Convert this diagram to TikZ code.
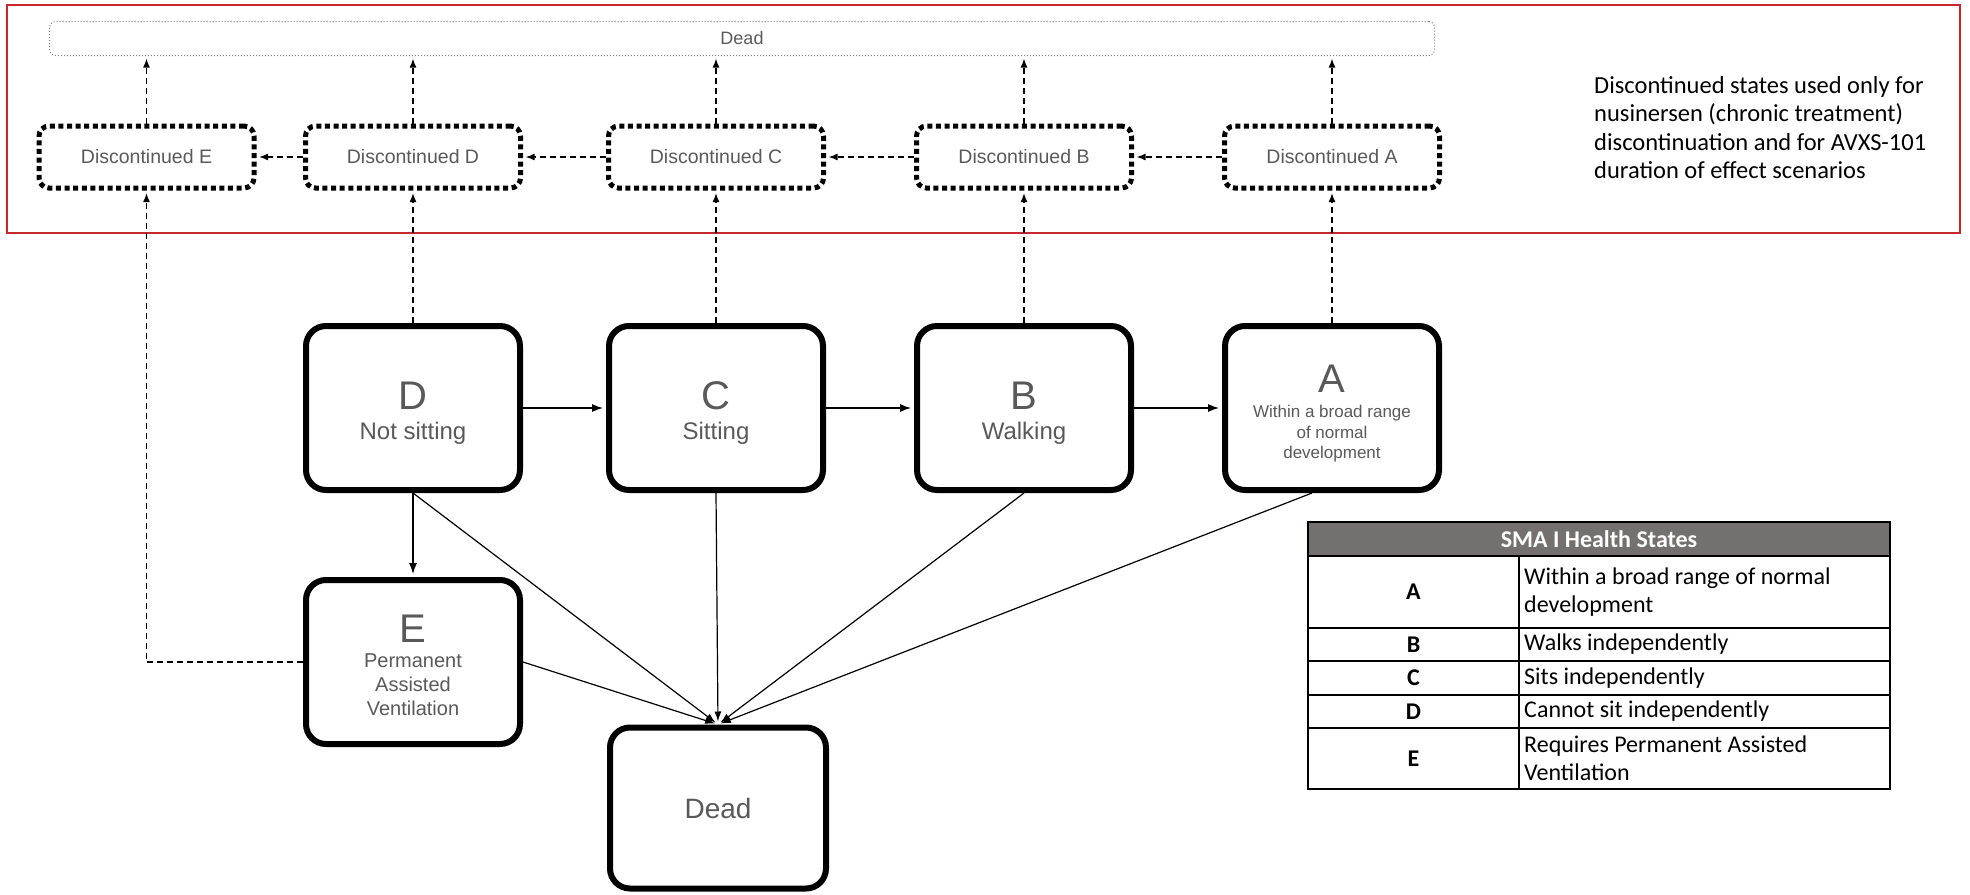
\documentclass[tikz,border=0pt]{standalone}
\usepackage{fontspec}
\setmainfont{Liberation Sans}
\newfontfamily\calibri{Carlito}
\usetikzlibrary{arrows.meta,calc}

\definecolor{boxtext}{RGB}{89,89,89}
\definecolor{framered}{RGB}{200,40,45}
\definecolor{headgray}{RGB}{117,112,112}

\newcommand{\subLarge}{\fontsize{24}{29}\selectfont}
\newcommand{\subSmall}{\fontsize{17}{20.5}\selectfont}
\newcommand{\subMid}{\fontsize{20}{24}\selectfont}

\newcommand{\stateBox}[8]{%
  \node[statebox] (#1) at (#2, #3) {};
  \node[stateletter, anchor=base] (#1-letter) at ($(#1.center)+(0,#4)$) {#7};
  \node[statetext, anchor=north, font=#6] (#1-text) at ($(#1.center)+(0,#5)$) {#8};
}

\newcommand{\healthRow}[5]{%
  \draw[tabline] (1308,#2) rectangle (1890,#3);
  \draw[tabline] (1519,#2) -- (1519,#3);
  \node[tabkey] (#1-key) at (1413.5,{(#2+#3)/2}) {#4};
  \node[tabdesc] (#1-desc) at (1524,{(#2+#3)/2}) {#5};
}

\begin{document}
\begin{tikzpicture}[x=1pt, y=-1pt,
    statebox/.style={draw, line width=6pt, rounded corners=20pt,
      minimum width=214pt, minimum height=164pt, inner sep=0pt},
    stateletter/.style={text=boxtext, font=\fontsize{40}{40}\selectfont, inner sep=0pt},
    statetext/.style={text=boxtext, align=center, inner sep=0pt},
    discbox/.style={draw, line width=5pt, dash pattern=on 5pt off 3.6pt,
      rounded corners=10pt, minimum width=215pt, minimum height=62pt,
      text=boxtext, font=\fontsize{19.5}{19.5}\selectfont},
    deadbar/.style={draw=gray, line width=1pt, dotted, rounded corners=6pt,
      minimum width=1385pt, minimum height=34pt,
      text=boxtext, font=\fontsize{18}{18}\selectfont},
    move/.style={line width=1.2pt, -{Latex[length=11pt,width=8pt]}, shorten >=3pt},
    death/.style={line width=1.2pt, -{Latex[length=10pt,width=7pt]}, shorten >=3pt},
    quitarrow/.style={line width=1.5pt, dash pattern=on 6pt off 4pt,
      -{Latex[length=9pt,width=7pt]}, shorten >=2.5pt},
    notetext/.style={align=left, inner sep=0pt, font=\calibri\fontsize{24.5}{28.5}\selectfont},
    tabline/.style={line width=1.8pt},
    tabhead/.style={text=white, font=\calibri\bfseries\fontsize{24}{24}\selectfont},
    tabkey/.style={font=\calibri\bfseries\fontsize{24}{24}\selectfont},
    tabdesc/.style={anchor=west, align=left, inner sep=0pt,
      font=\calibri\fontsize{24}{28}\selectfont}]
  \useasboundingbox (0,0) rectangle (1970,894);

  % discontinued states
  \draw[framered, line width=2.2pt] (7,5) rectangle (1960,233);
  \node[deadbar] (deadbar) at (742,38.5) {Dead};
  \node[discbox] (discE) at (146.5,157) {Discontinued E};
  \node[discbox] (discD) at (413,157) {Discontinued D};
  \node[discbox] (discC) at (716,157) {Discontinued C};
  \node[discbox] (discB) at (1024,157) {Discontinued B};
  \node[discbox] (discA) at (1332,157) {Discontinued A};
  \node[notetext, anchor=north west] (note) at (1594,76)
    {Discontinued states used only for\\nusinersen (chronic treatment)\\discontinuation and for AVXS-101\\duration of effect scenarios};

  % health states
  \stateBox{D}{413}{408}{1}{14}{\subLarge}{D}{Not sitting}
  \stateBox{C}{716}{408}{1}{14}{\subLarge}{C}{Sitting}
  \stateBox{B}{1024}{408}{1}{14}{\subLarge}{B}{Walking}
  \stateBox{A}{1332}{408}{-16}{-3}{\subSmall}{A}{Within a broad range\\of normal\\development}
  \stateBox{E}{413}{662}{-20}{-8}{\subMid}{E}{Permanent\\Assisted\\Ventilation}
  \node[statebox, minimum width=216pt, minimum height=161pt, text=boxtext,
    font=\fontsize{28}{28}\selectfont] (Dead) at (718,808) {Dead};

  % transitions
  \draw[move] (D.east) -- (C.west);
  \draw[move] (C.east) -- (B.west);
  \draw[move] (B.east) -- (A.west);
  \draw[move] (D.south) -- (E.north);
  \draw[death] (D.south) -- (Dead.north);
  \draw[death] (C.south) -- (Dead.north);
  \draw[death] (B.south) -- (Dead.north);
  \draw[death] ([xshift=-20pt]A.south) -- (Dead.north);
  \draw[death] (E.east) -- (Dead.north);

  % discontinuation
  \draw[quitarrow] (D.north) -- (discD.south);
  \draw[quitarrow] (C.north) -- (discC.south);
  \draw[quitarrow] (B.north) -- (discB.south);
  \draw[quitarrow] (A.north) -- (discA.south);
  \draw[quitarrow] (E.west) -| (discE.south);
  \draw[quitarrow] (discA.west) -- (discB.east);
  \draw[quitarrow] (discB.west) -- (discC.east);
  \draw[quitarrow] (discC.west) -- (discD.east);
  \draw[quitarrow] (discD.west) -- (discE.east);
  \draw[quitarrow] (discE.north) -- (discE.north |- deadbar.south);
  \draw[quitarrow] (discD.north) -- (discD.north |- deadbar.south);
  \draw[quitarrow] (discC.north) -- (discC.north |- deadbar.south);
  \draw[quitarrow] (discB.north) -- (discB.north |- deadbar.south);
  \draw[quitarrow] (discA.north) -- (discA.north |- deadbar.south);

  % table of health states
  \fill[headgray] (1308,522) rectangle (1890,556);
  \node[tabhead] (tabtitle) at (1599,539) {SMA I Health States};
  \healthRow{rowA}{556}{628}{A}{Within a broad range of normal\\development}
  \healthRow{rowB}{628}{661}{B}{Walks independently}
  \healthRow{rowC}{661}{695}{C}{Sits independently}
  \healthRow{rowD}{695}{728}{D}{Cannot sit independently}
  \healthRow{rowE}{728}{789}{E}{Requires Permanent Assisted\\Ventilation}
  \draw[line width=2.5pt] (1308,522) rectangle (1890,789);
\end{tikzpicture}
\end{document}
